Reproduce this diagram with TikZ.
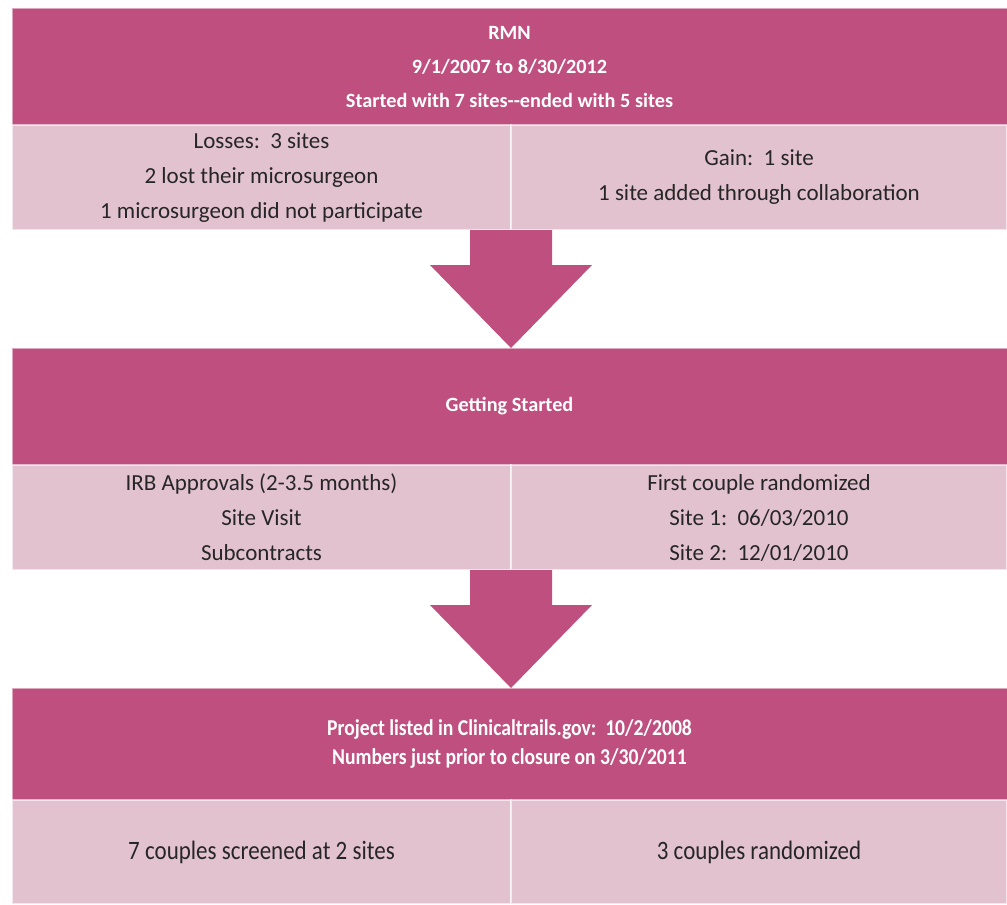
\documentclass[tikz,border=0pt]{standalone}
\usepackage{fontspec}
\setmainfont{Carlito}
\newfontfamily\narrowfont{Carlito}[FakeStretch=0.867]
\usetikzlibrary{calc}
\definecolor{rmnpink}{RGB}{190,79,126}
\definecolor{rmnlight}{RGB}{227,194,208}

\begin{document}
\begin{tikzpicture}[
    x=0.75pt, y=-0.75pt,
    every node/.style={inner sep=0pt, outer sep=0pt},
    hdr/.style={fill=rmnpink, draw=white, draw opacity=0.5, line width=0.6pt, minimum width=746.25pt, align=center, text=white, font=\fontsize{15.2}{25.5}\selectfont\bfseries},
    cellbox/.style={fill=rmnlight, draw=white, draw opacity=0.6, line width=0.8pt, align=center, text=black!85, font=\fontsize{17.25}{26.25}\selectfont},
    lcell/.style={cellbox, minimum width=374.25pt},
    rcell/.style={cellbox, minimum width=372pt},
    blockarrow/.style={fill=rmnpink}
]
\useasboundingbox (0,0) rectangle (1007,904);
% first block
\node[hdr, minimum height=87.75pt] (h1) at (509.5,66.5) {RMN\\9/1/2007 to 8/30/2012\\Started with 7 sites-{}-ended with 5 sites};
\node[lcell, minimum height=78.75pt] (l1) at (261.5,177.5) {Losses:\ \ 3 sites\\2 lost their microsurgeon\\1 microsurgeon did not participate};
\node[rcell, minimum height=78.75pt] (r1) at (759,177.5) {Gain:\ \ 1 site\\1 site added through collaboration};
% second block
\node[hdr, minimum height=87.75pt] (h2) at (509.5,406.5) {Getting Started};
\node[lcell, minimum height=78.75pt] (l2) at (261.5,517.5) {IRB Approvals (2-3.5 months)\\Site Visit\\Subcontracts};
\node[rcell, minimum height=78.75pt] (r2) at (759,517.5) {First couple randomized\\Site 1:\ \ 06/03/2010\\Site 2:\ \ 12/01/2010};
% third block
\node[hdr, minimum height=84pt, font=\narrowfont\fontsize{17}{22}\selectfont\bfseries] (h3) at (509.5,744) {Project listed in Clinicaltrails.gov:\ \ 10/2/2008\\Numbers just prior to closure on 3/30/2011};
\node[lcell, minimum height=78pt, font=\narrowfont\fontsize{19.9}{26}\selectfont] (l3) at (261.5,852) {7 couples screened at 2 sites};
\node[rcell, minimum height=78pt, font=\narrowfont\fontsize{19.9}{26}\selectfont] (r3) at (759,852) {3 couples randomized};
% block arrows
\foreach \a/\b in {l1/h2, l2/h3}
  \fill[blockarrow] ($(\a.south east)+(-41,0)$) -- ++(82,0) -- ++(0,35) -- ++(40,0)
    -- (\a.south east |- \b.north) -- ($(\a.south east)+(-81,35)$) -- ++(40,0) -- cycle;
\end{tikzpicture}
\end{document}
